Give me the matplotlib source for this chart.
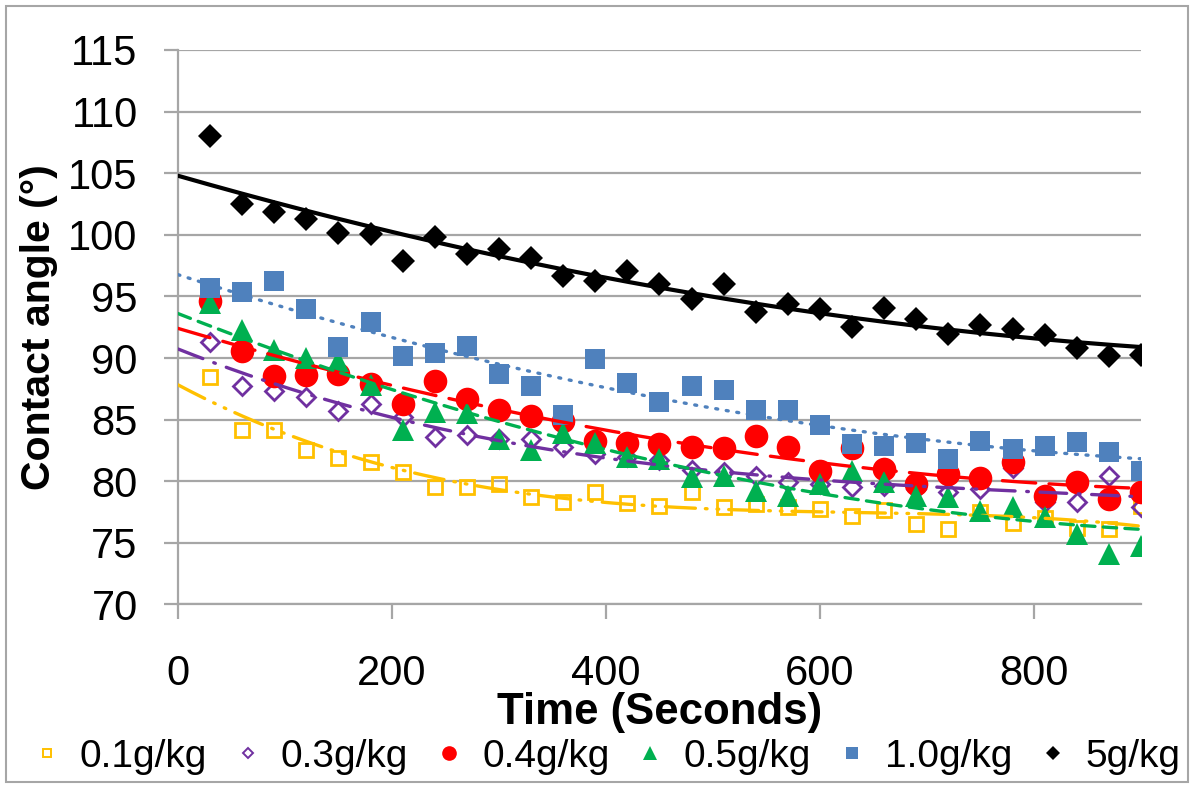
import numpy as np
import matplotlib.pyplot as plt
from matplotlib.patches import Rectangle
from matplotlib.lines import Line2D

plt.rcParams['font.family'] = ['Liberation Sans', 'DejaVu Sans']

# sampling times (s)
time_s = [30, 60, 90, 120, 150, 180, 210, 240, 270, 300,
          330, 360, 390, 420, 450, 480, 510, 540, 570, 600,
          630, 660, 690, 720, 750, 780, 810, 840, 870, 900]

# contact angle (deg) per concentration
ca_01 = [88.46, 84.20, 84.12, 82.54, 81.92, 81.59, 80.78, 79.50, 79.50, 79.78,
         78.74, 78.34, 79.15, 78.20, 78.01, 79.15, 77.88, 78.15, 77.88, 77.74,
         77.20, 77.69, 76.52, 76.11, 77.50, 76.60, 77.00, 76.17, 76.11, 78.00]
ca_03 = [91.31, 87.70, 87.29, 86.83, 85.69, 86.29, 85.20, 83.58, 83.79, 83.40,
         83.44, 82.76, 82.22, 82.00, 81.70, 80.92, 80.73, 80.40, 79.91, 79.80,
         79.50, 79.64, 79.37, 79.15, 79.37, 81.05, 78.28, 78.28, 80.40, 77.88]
ca_04 = [94.65, 90.60, 88.54, 88.60, 88.70, 87.92, 86.29, 88.11, 86.70, 85.75,
         85.26, 84.93, 83.30, 83.11, 83.03, 82.82, 82.71, 83.71, 82.76, 80.81,
         82.68, 81.00, 79.78, 80.59, 80.24, 81.54, 78.83, 79.91, 78.56, 79.15]
ca_05 = [94.50, 92.31, 90.63, 90.00, 89.76, 87.78, 84.17, 85.61, 85.50, 83.44,
         82.54, 83.93, 83.11, 81.95, 81.81, 80.32, 80.40, 79.23, 78.77, 79.78,
         80.86, 79.97, 78.83, 78.75, 77.60, 77.88, 77.06, 75.73, 74.08, 74.76]
ca_10 = [95.71, 95.33, 96.28, 93.97, 90.90, 92.94, 90.17, 90.44, 90.96, 88.73,
         87.70, 85.34, 89.95, 88.00, 86.42, 87.73, 87.43, 85.75, 85.75, 84.53,
         83.03, 82.90, 83.11, 81.81, 83.30, 82.63, 82.84, 83.22, 82.35, 80.86]
ca_50 = [108.04, 102.49, 101.84, 101.30, 100.13, 100.05, 97.89, 99.81, 98.46, 98.86,
         98.13, 96.67, 96.26, 97.08, 96.02, 94.78, 96.02, 93.77, 94.39, 93.99,
         92.55, 94.07, 93.15, 91.96, 92.69, 92.34, 91.88, 90.85, 90.17, 90.25]

labels = ["0.1g/kg", "0.3g/kg", "0.4g/kg", "0.5g/kg", "1.0g/kg", "5g/kg"]

# polynomial order of each trendline
trend_order = [3, 3, 2, 2, 2, 2]

# marker, size, face, edge, trend linestyle
styles = [
    dict(marker="s", ms=10, mfc="none", mec="#FFC000", mew=2.0, ls=(0, (9, 3, 0.5, 3, 0.5, 3)), lc="#FFC000"),
    dict(marker="D", ms=9, mfc="none", mec="#7030A0", mew=2.0, ls=(0, (8, 3.5, 0.5, 3.5)), lc="#7030A0"),
    dict(marker="o", ms=17, mfc="#FF0000", mec="#FF0000", mew=0, ls=(0, (10, 4)), lc="#FF0000"),
    dict(marker="^", ms=16, mfc="#00B050", mec="#00B050", mew=0, ls=(0, (4, 2.5)), lc="#00B050"),
    dict(marker="s", ms=14, mfc="#4F81BD", mec="#4F81BD", mew=0, ls=(0, (0.6, 2.6)), lc="#4F81BD"),
    dict(marker="D", ms=12, mfc="black", mec="black", mew=0, ls="-", lc="black"),
]
series = [ca_01, ca_03, ca_04, ca_05, ca_10, ca_50]

fig = plt.figure(figsize=(11.92, 7.87), dpi=100)
ax = fig.add_axes([0.1493, 0.2319, 0.9572 - 0.1493, 0.9365 - 0.2319])

t = np.array(time_s)
for y, st, lab in zip(series, styles, labels):
    ax.plot(t, y, linestyle="none", marker=st["marker"], ms=st["ms"],
            mfc=st["mfc"], mec=st["mec"], mew=st["mew"], zorder=3, label=lab)

# polynomial trendlines, drawn over the markers like Excel
tt = np.linspace(0, 900, 300)
for y, st, k in zip(series, styles, trend_order):
    coef = np.polyfit(t, y, k)
    lw = 3.0 if st["ls"] == "-" else 2.4
    ax.plot(tt, np.polyval(coef, tt), color=st["lc"], ls=st["ls"], lw=lw,
            dash_capstyle="round", zorder=4)

ax.set_xlim(0, 900)
ax.set_ylim(70, 115)
ax.set_xticks([0, 200, 400, 600, 800])
ax.set_yticks(range(70, 116, 5))
ax.yaxis.grid(True, color="#A6A6A6", lw=1.6)
ax.set_axisbelow(True)
for s in ["top", "right"]:
    ax.spines[s].set_visible(False)
for s in ["left", "bottom"]:
    ax.spines[s].set_color("#A6A6A6")
    ax.spines[s].set_linewidth(1.6)
ax.tick_params(axis="x", length=11, width=1.6, color="#A6A6A6", pad=25, labelsize=30)
ax.tick_params(axis="y", length=10, width=1.6, color="#A6A6A6", pad=19, labelsize=30)

ax.set_xlabel("Time (Seconds)", fontsize=31.5, fontweight="bold", labelpad=-2)
ax.set_ylabel("Contact angle (°)", fontsize=29.5, fontweight="bold", labelpad=7)

leg_handles = [Line2D([], [], linestyle="none", marker=st["marker"], ms=st["ms"] * 0.62,
                      mfc=st["mfc"], mec=st["mec"], mew=st["mew"] * 0.7) for st in styles]
fig.legend(leg_handles, labels, loc="center", bbox_to_anchor=(0.51, 1 - 757 / 787),
           ncol=6, frameon=False, fontsize=28, handlelength=0.6, handletextpad=0.55,
           columnspacing=0.75, borderpad=0)

fig.patches.append(Rectangle((6 / 1192, 5 / 787), 1182 / 1192, 776 / 787,
                             transform=fig.transFigure, fill=False,
                             edgecolor="#A6A6A6", lw=1.5))

fig.savefig("out.png", dpi=100)
